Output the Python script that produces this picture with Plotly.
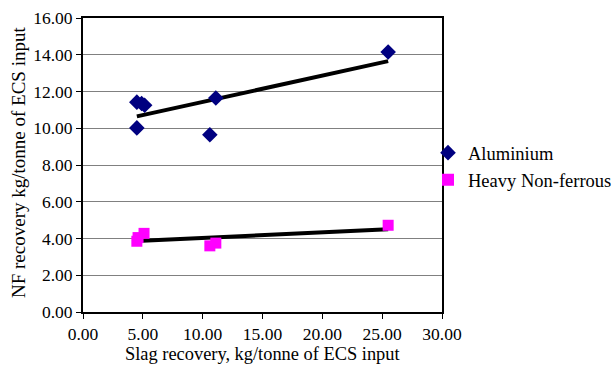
import numpy as np
import plotly.graph_objects as go

al_x = [4.5, 4.9, 5.15, 4.5, 10.6, 11.1, 25.5]
al_y = [11.42, 11.35, 11.25, 10.02, 9.65, 11.65, 14.15]
hn_x = [4.5, 4.6, 5.1, 10.6, 11.1, 25.5]
hn_y = [3.85, 4.05, 4.28, 3.6, 3.75, 4.72]

x_ticks = [0, 5, 10, 15, 20, 25, 30]
y_ticks = [0, 2, 4, 6, 8, 10, 12, 14, 16]

def trend(xs, ys):
    m, c = np.polyfit(xs, ys, 1)
    tx = np.array([min(xs), max(xs)])
    return tx, m * tx + c

SERIF = "Liberation Serif"

fig = go.Figure()
for xs, ys in [(al_x, al_y), (hn_x, hn_y)]:
    tx, ty = trend(xs, ys)
    fig.add_trace(go.Scatter(x=tx, y=ty, mode="lines", line=dict(color="black", width=4),
                             showlegend=False, hoverinfo="skip"))

fig.add_trace(go.Scatter(x=al_x, y=al_y, mode="markers", name="Aluminium",
                         marker=dict(symbol="diamond", size=12, color="#000080")))
fig.add_trace(go.Scatter(x=hn_x, y=hn_y, mode="markers", name="Heavy Non-ferrous",
                         marker=dict(symbol="square", size=11, color="#FF00FF")))

fig.update_layout(
    width=614, height=365,
    margin=dict(l=83, r=172, t=18, b=53, autoexpand=False),
    paper_bgcolor="white", plot_bgcolor="white",
    font=dict(family=SERIF, size=17, color="black"),
    legend=dict(x=0.961, y=0.605, xanchor="left", yanchor="top",
                font=dict(family=SERIF, size=18.5, color="black"),
                bgcolor="rgba(0,0,0,0)", tracegroupgap=0, itemsizing="constant"),
    xaxis=dict(range=[0, 30], tickvals=x_ticks, ticktext=[f"{v:.2f}" for v in x_ticks],
               tickfont=dict(family=SERIF, size=17.5, color="black"),
               showgrid=False, zeroline=False, showline=True, linecolor="black", linewidth=2,
               mirror=True, ticks="outside", ticklen=5, tickcolor="black", tickwidth=1),
    yaxis=dict(range=[0, 16], tickvals=y_ticks, ticktext=[f"{v:.2f}" for v in y_ticks],
               tickfont=dict(family=SERIF, size=17.5, color="black"),
               showgrid=True, gridcolor="#808080", gridwidth=1, zeroline=False,
               showline=True, linecolor="black", linewidth=2, mirror=True,
               ticks="outside", ticklen=5, tickcolor="black", tickwidth=1),
    annotations=[
        dict(text="Slag recovery, kg/tonne of ECS input", xref="paper", yref="paper",
             x=0.5, y=0, yshift=-42, xanchor="center", yanchor="middle", showarrow=False,
             font=dict(family=SERIF, size=18.4, color="black")),
        dict(text="NF recovery kg/tonne of ECS input", xref="paper", yref="paper",
             x=0, y=0.5, xshift=-65, yshift=2, xanchor="center", yanchor="middle", showarrow=False,
             textangle=-90, font=dict(family=SERIF, size=19, color="black")),
    ],
)

fig.write_html("out.html")
